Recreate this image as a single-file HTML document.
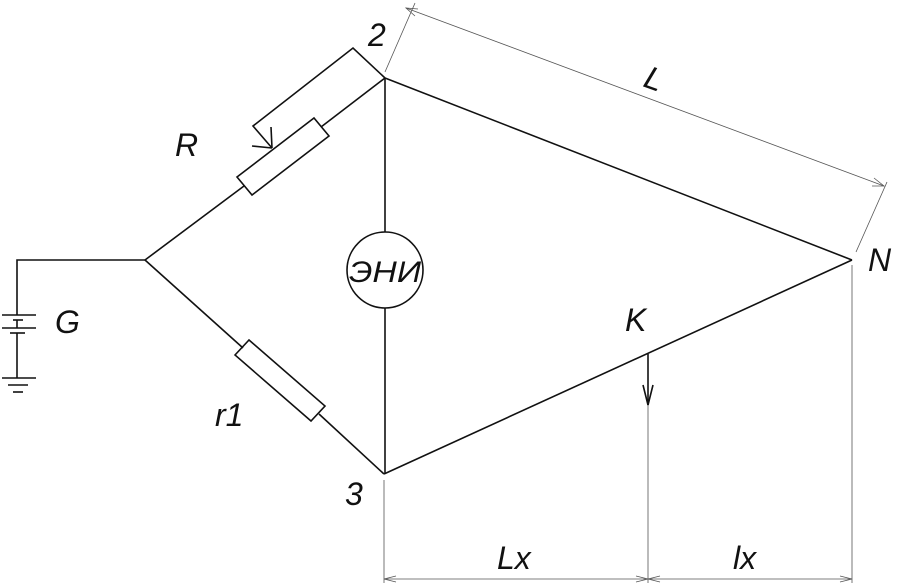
<!DOCTYPE html>
<html><head><meta charset="utf-8"><style>body{margin:0;background:#fff}svg{display:block}text{font-family:"Liberation Sans",sans-serif;font-style:italic;fill:#111}</style></head><body>
<svg width="900" height="585" viewBox="0 0 900 585" xmlns="http://www.w3.org/2000/svg">
<g stroke="#111" stroke-width="1.6" fill="none">
<line x1="145" y1="260" x2="244" y2="186"/>
<line x1="321" y1="127" x2="385" y2="78"/>
<line x1="145" y1="260" x2="243" y2="348"/>
<line x1="319" y1="414" x2="384" y2="474"/>
<line x1="385" y1="78" x2="852" y2="260"/>
<line x1="384" y1="474" x2="852" y2="260"/>
<line x1="385" y1="78" x2="385" y2="232"/>
<line x1="385" y1="308" x2="385" y2="474"/>
<circle cx="385" cy="270" r="38"/>
<polygon points="237,177 252,195 329,136 314,118"/>
<polyline points="385,78 353,48 253,126 272,148"/>
<line x1="271" y1="127" x2="272" y2="148"/>
<line x1="252" y1="146" x2="272" y2="148"/>
<polygon points="235,355 249,340 325,406 311,421"/>
<polyline points="145,260 17,260 17,315"/>
<line x1="17" y1="320" x2="17" y2="328"/>
<line x1="17" y1="333" x2="17" y2="378"/>
<line x1="2" y1="315" x2="36" y2="315"/>
<line x1="13" y1="320" x2="23" y2="320"/>
<line x1="2" y1="328" x2="36" y2="328"/>
<line x1="10" y1="333" x2="25" y2="333"/>
<line x1="2" y1="378" x2="36" y2="378"/>
<line x1="8" y1="385" x2="28" y2="385"/>
<line x1="13" y1="392" x2="23" y2="392"/>
<line x1="648" y1="354" x2="648" y2="405"/>
<polyline points="643,385 648,405 653,385"/>
</g>
<g stroke="#555" stroke-width="0.8" fill="none">
<line x1="385" y1="72" x2="415" y2="3"/>
<line x1="856" y1="252" x2="887" y2="182"/>
<line x1="406" y1="8" x2="884" y2="186"/>
<polyline points="418,9 406,8 415,16"/>
<polyline points="872,186 884,186 874,178"/>
<line x1="384" y1="480" x2="384" y2="583"/>
<line x1="648" y1="405" x2="648" y2="583"/>
<line x1="852" y1="265" x2="852" y2="583"/>
<line x1="384" y1="579" x2="852" y2="579"/>
<polyline points="396,576 384,579 396,582"/>
<polyline points="636,576 648,579 636,582"/>
<polyline points="660,576 648,579 660,582"/>
<polyline points="840,576 852,579 840,582"/>
</g>
<g font-size="32">
<text x="368" y="46">2</text>
<text x="345" y="505">3</text>
<text x="175" y="156">R</text>
<text x="55" y="333">G</text>
<text x="215" y="426">r1</text>
<text x="625" y="331">K</text>
<text x="868" y="271">N</text>
<text x="497" y="569">Lx</text>
<text x="733" y="569">lx</text>
<text x="349" y="282" font-size="30" textLength="72" lengthAdjust="spacingAndGlyphs">ЭНИ</text>
<text x="0" y="0" transform="translate(642,86) rotate(20)">L</text>
</g>
</svg>
</body></html>
